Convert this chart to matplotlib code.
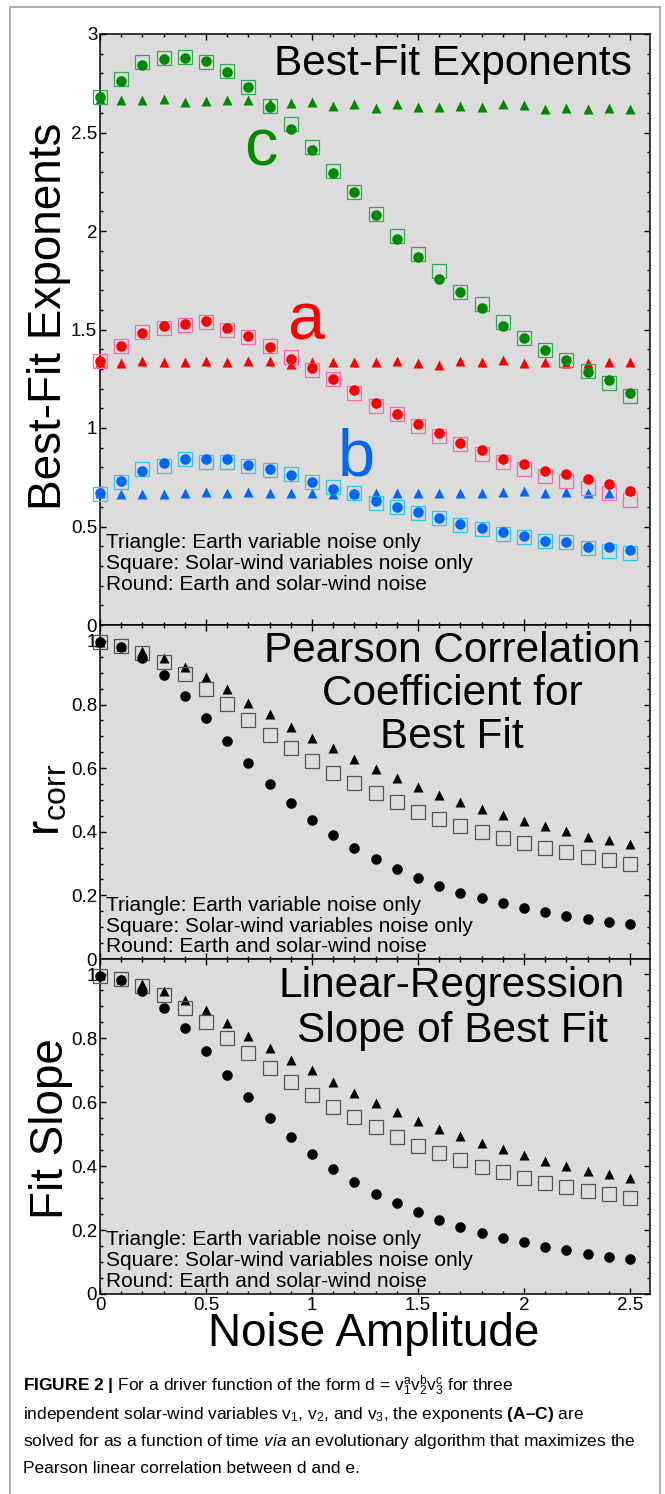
import matplotlib
matplotlib.use("Agg")
import matplotlib.pyplot as plt
from matplotlib.ticker import MultipleLocator, FuncFormatter
from matplotlib.patches import Rectangle

plt.rcParams['font.family'] = ['Liberation Sans', 'DejaVu Sans']
plt.rcParams['mathtext.fontset'] = 'custom'
plt.rcParams['mathtext.rm'] = 'Liberation Sans'
plt.rcParams['mathtext.it'] = 'Liberation Sans:italic'
plt.rcParams['mathtext.bf'] = 'Liberation Sans:bold'

# noise amplitude (x axis)
noise = [0.0, 0.1, 0.2, 0.3, 0.4, 0.5, 0.6, 0.7, 0.8, 0.9, 1.0, 1.1, 1.2,
         1.3, 1.4, 1.5, 1.6, 1.7, 1.8, 1.9, 2.0, 2.1, 2.2, 2.3, 2.4, 2.5]

# panel A: best-fit exponents (round / square / triangle for a, b, c)
c_round = [2.682, 2.761, 2.843, 2.871, 2.877, 2.863, 2.809, 2.733, 2.631, 2.516, 2.411, 2.293, 2.196,
           2.080, 1.961, 1.866, 1.758, 1.690, 1.608, 1.520, 1.458, 1.396, 1.345, 1.283, 1.244, 1.176]
c_square = [2.679, 2.772, 2.856, 2.880, 2.885, 2.856, 2.814, 2.733, 2.635, 2.543, 2.428, 2.306, 2.196,
            2.086, 1.975, 1.883, 1.798, 1.689, 1.629, 1.537, 1.458, 1.396, 1.345, 1.289, 1.227, 1.162]
c_tri = [2.670, 2.665, 2.665, 2.668, 2.655, 2.660, 2.664, 2.667, 2.650, 2.648, 2.655, 2.635, 2.645,
         2.624, 2.645, 2.628, 2.631, 2.635, 2.631, 2.643, 2.638, 2.621, 2.623, 2.619, 2.623, 2.621]

a_round = [1.340, 1.416, 1.482, 1.519, 1.528, 1.541, 1.508, 1.467, 1.410, 1.350, 1.303, 1.247, 1.193,
           1.125, 1.070, 1.020, 0.976, 0.925, 0.890, 0.843, 0.817, 0.782, 0.767, 0.741, 0.717, 0.682]
a_square = [1.340, 1.418, 1.487, 1.510, 1.522, 1.536, 1.497, 1.464, 1.418, 1.359, 1.294, 1.249, 1.179,
            1.112, 1.070, 1.010, 0.961, 0.917, 0.870, 0.826, 0.790, 0.758, 0.733, 0.694, 0.668, 0.634]
a_tri = [1.337, 1.332, 1.340, 1.333, 1.335, 1.342, 1.337, 1.340, 1.338, 1.325, 1.335, 1.333, 1.335,
         1.333, 1.342, 1.332, 1.322, 1.340, 1.337, 1.345, 1.330, 1.333, 1.328, 1.328, 1.333, 1.333]

b_round = [0.672, 0.731, 0.783, 0.822, 0.841, 0.844, 0.843, 0.814, 0.792, 0.763, 0.728, 0.692, 0.663,
           0.631, 0.599, 0.574, 0.543, 0.514, 0.494, 0.470, 0.452, 0.428, 0.421, 0.398, 0.398, 0.381]
b_square = [0.665, 0.724, 0.792, 0.809, 0.841, 0.829, 0.829, 0.809, 0.787, 0.765, 0.728, 0.702, 0.668,
            0.617, 0.597, 0.570, 0.541, 0.507, 0.489, 0.463, 0.445, 0.425, 0.420, 0.389, 0.377, 0.364]
b_tri = [0.668, 0.665, 0.665, 0.663, 0.672, 0.675, 0.668, 0.675, 0.672, 0.672, 0.672, 0.665, 0.668,
         0.672, 0.668, 0.672, 0.672, 0.672, 0.672, 0.677, 0.678, 0.672, 0.675, 0.672, 0.672, 0.685]

# panel B: Pearson correlation
corr_round = [0.995, 0.981, 0.947, 0.893, 0.828, 0.757, 0.684, 0.615, 0.549, 0.491, 0.438, 0.391, 0.350,
              0.314, 0.283, 0.255, 0.231, 0.209, 0.192, 0.176, 0.161, 0.147, 0.136, 0.125, 0.117, 0.109]
corr_square = [0.995, 0.984, 0.963, 0.934, 0.895, 0.849, 0.801, 0.752, 0.705, 0.663, 0.622, 0.585, 0.552,
               0.521, 0.492, 0.463, 0.440, 0.419, 0.398, 0.380, 0.364, 0.348, 0.335, 0.322, 0.311, 0.299]
corr_tri = [0.997, 0.985, 0.968, 0.947, 0.919, 0.885, 0.848, 0.806, 0.770, 0.730, 0.695, 0.662, 0.628,
            0.597, 0.568, 0.542, 0.516, 0.494, 0.471, 0.453, 0.434, 0.417, 0.401, 0.384, 0.374, 0.362]

# panel C: regression slope (reads almost the same as panel B in the figure)
slope_round = [0.995, 0.981, 0.947, 0.895, 0.830, 0.758, 0.685, 0.615, 0.549, 0.491, 0.438, 0.391, 0.350,
               0.314, 0.283, 0.255, 0.231, 0.209, 0.192, 0.176, 0.161, 0.147, 0.136, 0.125, 0.117, 0.108]
slope_square = [0.995, 0.984, 0.963, 0.934, 0.895, 0.851, 0.801, 0.752, 0.705, 0.663, 0.622, 0.585, 0.552,
                0.521, 0.492, 0.463, 0.440, 0.419, 0.398, 0.380, 0.364, 0.348, 0.335, 0.322, 0.311, 0.299]
slope_tri = [0.997, 0.985, 0.968, 0.947, 0.919, 0.888, 0.848, 0.806, 0.770, 0.730, 0.700, 0.662, 0.628,
             0.597, 0.568, 0.542, 0.516, 0.494, 0.471, 0.453, 0.434, 0.417, 0.401, 0.384, 0.374, 0.361]

legend_lines = ["Triangle: Earth variable noise only",
                "Square: Solar-wind variables noise only",
                "Round: Earth and solar-wind noise"]

BG = '#dcdcdc'
W, H = 665, 1494


def style_axes(ax, ymax, ymajor, yminor):
    ax.set_facecolor(BG)
    ax.set_xlim(0, 2.594)
    ax.set_ylim(0, ymax)
    ax.xaxis.set_major_locator(MultipleLocator(0.5))
    ax.xaxis.set_minor_locator(MultipleLocator(0.1))
    ax.yaxis.set_major_locator(MultipleLocator(ymajor))
    ax.yaxis.set_minor_locator(MultipleLocator(yminor))
    fmt = FuncFormatter(lambda v, p: '%g' % v)
    ax.xaxis.set_major_formatter(fmt)
    ax.yaxis.set_major_formatter(fmt)
    ax.tick_params(which='both', direction='in', top=True, right=True, width=1, labelsize=13.5, pad=2)
    ax.tick_params(which='major', length=4)
    ax.tick_params(which='minor', length=2.5)
    for s in ax.spines.values():
        s.set_linewidth(1.1)


def legend_text(ax, offsets_px):
    for line, off in zip(legend_lines, offsets_px):
        ax.annotate(line, xy=(0.011, 0), xycoords='axes fraction',
                    xytext=(0, off * 0.72), textcoords='offset points',
                    fontsize=15, va='baseline', ha='left')


def series(ax, tri, sq, rnd, fc, sq_ec):
    ax.plot(noise, tri, ls='none', marker='^', ms=7.3, mfc=fc, mec='none', clip_on=False, zorder=3)
    ax.plot(noise, sq, ls='none', marker='s', ms=10.5, mfc='none', mec=sq_ec, mew=0.9, clip_on=False, zorder=4)
    ax.plot(noise, rnd, ls='none', marker='o', ms=7.6, mfc=fc, mec='none', clip_on=False, zorder=5)


fig = plt.figure(figsize=(W / 100, H / 100), dpi=100)
left, width = 100 / W, 550 / W
ax1 = fig.add_axes([left, 1 - 625 / H, width, 591 / H])
ax2 = fig.add_axes([left, 1 - 959 / H, width, 334 / H])
ax3 = fig.add_axes([left, 1 - 1294 / H, width, 335 / H])

# panel A
style_axes(ax1, 3, 0.5, 0.1)
ax1.tick_params(labelbottom=False)
series(ax1, c_tri, c_square, c_round, '#008a00', '#35a85a')
series(ax1, a_tri, a_square, a_round, '#ff0000', '#ff66b0')
series(ax1, b_tri, b_square, b_round, '#0066ff', '#2ccbe8')
ax1.text(0.967, 1 - 41 / 591, 'Best-Fit Exponents', transform=ax1.transAxes,
         ha='right', va='baseline', fontsize=30.5)
ax1.text(0.76, 2.335, 'c', color='#008a00', fontsize=48, ha='center', va='baseline')
ax1.text(0.97, 1.447, 'a', color='#ff0000', fontsize=48, ha='center', va='baseline')
ax1.text(1.21, 0.761, 'b', color='#0066ff', fontsize=48, ha='center', va='baseline')
ax1.text(-0.092, 0.523, 'Best-Fit Exponents', transform=ax1.transAxes, rotation=90,
         ha='center', va='center', fontsize=33)
legend_text(ax1, [77, 56, 35])

# panel B
style_axes(ax2, 1.05, 0.2, 0.05)
ax2.tick_params(labelbottom=False)
series(ax2, corr_tri, corr_square, corr_round, 'black', '#555555')
for line, ypx in zip(["Pearson Correlation", "Coefficient for", "Best Fit"], [37, 80, 123]):
    ax2.text(0.64, 1 - ypx / 334, line, transform=ax2.transAxes, ha='center', va='baseline', fontsize=30.5)
ax2.text(-0.095, 0.476, r'r$_{\mathregular{corr}}$', transform=ax2.transAxes, rotation=90,
         ha='center', va='center', fontsize=33)
legend_text(ax2, [48, 27, 7])

# panel C
style_axes(ax3, 1.047, 0.2, 0.05)
series(ax3, slope_tri, slope_square, slope_round, 'black', '#555555')
for line, ypx in zip(["Linear-Regression", "Slope of Best Fit"], [38, 83]):
    ax3.text(0.64, 1 - ypx / 335, line, transform=ax3.transAxes, ha='center', va='baseline', fontsize=30.5)
ax3.text(-0.089, 0.495, 'Fit Slope', transform=ax3.transAxes, rotation=90,
         ha='center', va='center', fontsize=33)
ax3.text(0.498, -52 / 335, 'Noise Amplitude', transform=ax3.transAxes,
         ha='center', va='baseline', fontsize=33)
legend_text(ax3, [49, 28, 7])

# outer frame of the figure panel
fig.patches.append(Rectangle((10 / W, -0.01), 650 / W, 1 - 7 / H + 0.01, transform=fig.transFigure,
                             fill=False, ec='#a0a0a0', lw=1.2))

# caption
caption = [
    r'$\mathbf{FIGURE\ 2\ |}$ For a driver function of the form d = v$_1^\mathrm{a}$v$_2^\mathrm{b}$v$_3^\mathrm{c}$ for three',
    r'independent solar-wind variables v$_1$, v$_2$, and v$_3$, the exponents $\mathbf{(A–C)}$ are',
    r'solved for as a function of time $\mathit{via}$ an evolutionary algorithm that maximizes the',
    'Pearson linear correlation between d and e.',
]
for line, ypx in zip(caption, [1391, 1419, 1446, 1473]):
    fig.text(23 / W, 1 - ypx / H, line, ha='left', va='baseline', fontsize=12.5)

fig.savefig('out.png', dpi=100)
